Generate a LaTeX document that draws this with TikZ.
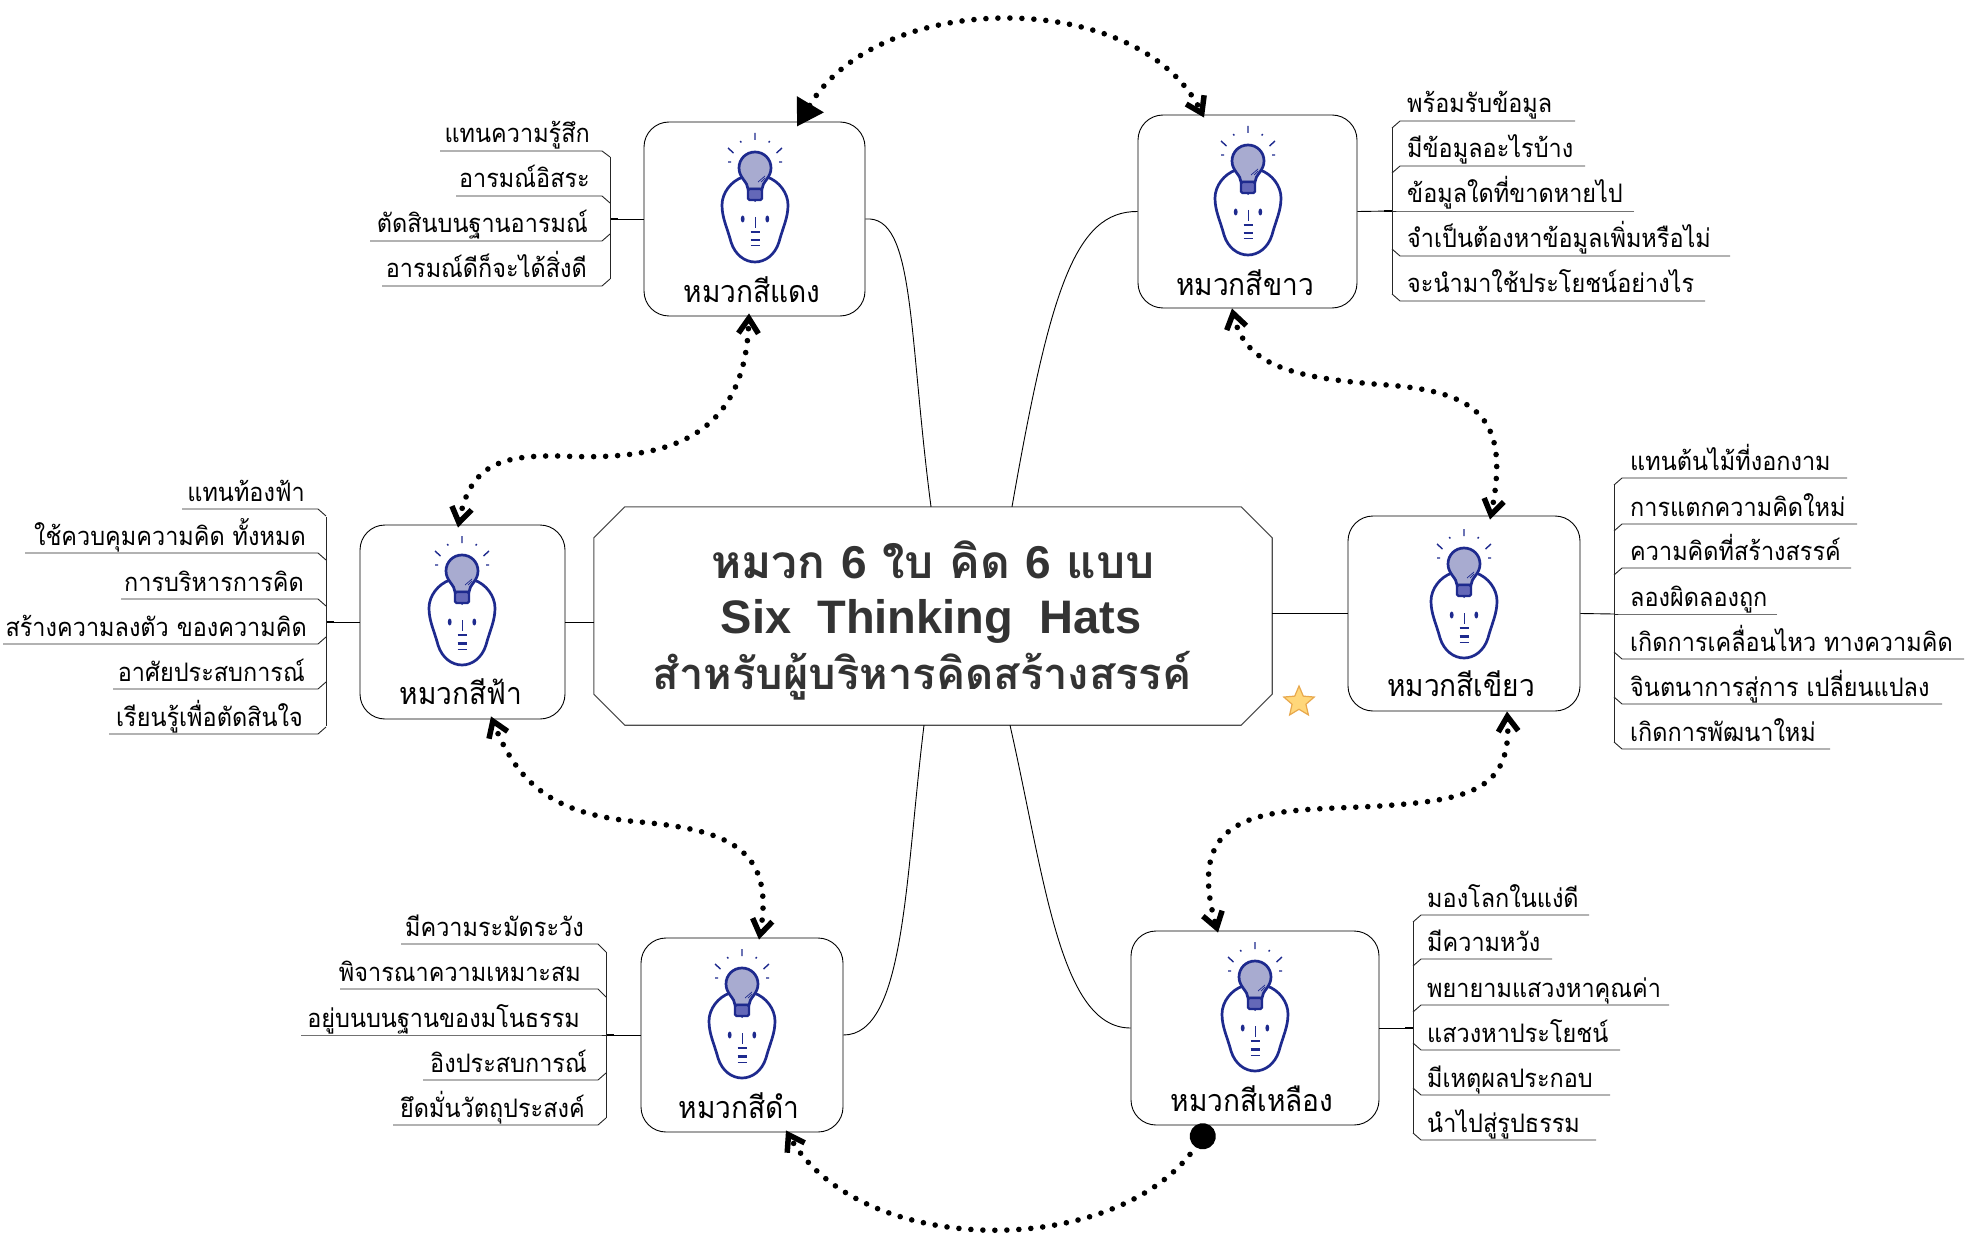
\documentclass[tikz,border=0pt]{standalone}
\usepackage{fontspec}
\usetikzlibrary{arrows.meta,shapes.misc,shapes.geometric,calc}
\newfontfamily\thaifont[Script=Thai,FakeStretch=0.92]{Loma}
\newfontfamily\thaititle[Script=Thai]{Loma}
\newfontfamily\latinbold{Liberation Sans}[BoldFont={Liberation Sans Bold}]
\setmainfont{Loma}
\definecolor{faceblue}{HTML}{1E2A8E}
\definecolor{bulbfill}{HTML}{A8ABD0}
\definecolor{basefill}{HTML}{6468B8}
\definecolor{titlegray}{HTML}{333333}
\definecolor{starfill}{HTML}{FFD77A}
\definecolor{starline}{HTML}{E8A84C}
\tikzset{
  hatbox/.style={draw=black,line width=0.9pt,rectangle,rounded corners=25pt,inner sep=0pt,fill=white},
  hatlabel/.style={font=\thaifont\fontsize{30.5}{34}\selectfont,inner sep=0pt,anchor=center},
  leaftxt/.style={font=\thaifont\fontsize{25.5}{28}\selectfont,inner sep=0pt},
  titletxt/.style={text=titlegray,inner sep=0pt,anchor=base},
  twig/.style={draw=black!85,line width=0.9pt},
  stem/.style={draw=black,line width=0.9pt},
  dotlink/.style={line width=5.6pt,line cap=round,dash pattern=on 0pt off 12pt,black},
  chev/.tip={Straight Barb[length=15pt,width=20pt,line width=5.5pt]},
  face/.pic={
    \draw[faceblue,line width=2.7pt,fill=white] (-12,25) .. controls (-24,29) and (-33,41) .. (-33,53)
      .. controls (-33,66) and (-28,75) .. (-24,90) .. controls (-20,103) and (-10,110) .. (0,110)
      .. controls (10,110) and (20,103) .. (24,90) .. controls (28,75) and (33,66) .. (33,53)
      .. controls (33,41) and (24,29) .. (12,25);
    \draw[faceblue,line width=2.7pt,fill=bulbfill] (-7,37) .. controls (-7,30) and (-16,26) .. (-16,16)
      .. controls (-16,7) and (-9,0) .. (0,0) .. controls (9,0) and (16,7) .. (16,16)
      .. controls (16,26) and (7,30) .. (7,37) -- cycle;
    \draw[faceblue,line width=2.2pt,fill=basefill,rounded corners=1.5pt] (-7,37) rectangle (7,48);
    \fill[faceblue] (-2,48) -- (2,48) -- (0,50) -- cycle;
    \draw[faceblue,line width=0.7pt] (3,30) -- (10,24) (6,30) -- (10,26);
    \draw[faceblue,line width=1.4pt] (0,-19) -- (0,-12) (-14.7,-11) -- (-13.7,-9.5) (14.7,-11) -- (13.7,-9.5)
      (-27,-4) -- (-21.5,1) (27,-4) -- (21.5,1) (-27,10) -- (-24,10) (27,10) -- (24,10);
    \fill[faceblue] (-12.3,67) ellipse (1.9 and 3.5) (12.3,67) ellipse (1.9 and 3.5);
    \draw[faceblue,line width=0.9pt] (0,65) -- (0,76);
    \draw[faceblue,line width=2.4pt] (-4.5,80) -- (4.5,80) (-4.5,88.3) -- (5,88.3);
    \draw[faceblue,line width=1pt] (-4.5,94) -- (5,94);
  }
}
% left-hand leaf: name, line start x, line y, text right x, spine x, chamfer dy, text
\newcommand{\leafL}[7]{%
  \node[leaftxt,anchor=base east] (#1) at (#4,#3-8) {#7};
  \draw[twig] (#2,#3) -- (#5-8,#3) -- (#5,#3+#6);
}
% right-hand leaf: name, line end x, line y, text left x, spine x, chamfer dy, text
\newcommand{\leafR}[7]{%
  \node[leaftxt,anchor=base west] (#1) at (#4,#3-8) {#7};
  \draw[twig] (#2,#3) -- (#5+8,#3) -- (#5,#3+#6);
}
\begin{document}
\begin{tikzpicture}[x=1pt,y=-1pt]
\useasboundingbox[fill=white] (0,0) rectangle (1965,1241);

% central topic
\node[minimum width=678pt,minimum height=218pt,inner sep=0pt] (central) at (933,616) {};
\draw[draw=black!70,line width=1.1pt,fill=white]
  ([xshift=31pt]central.north west) -- ([xshift=-31pt]central.north east)
  -- ([yshift=-31pt]central.north east) -- ([yshift=31pt]central.south east)
  -- ([xshift=-31pt]central.south east) -- ([xshift=31pt]central.south west)
  -- ([yshift=31pt]central.south west) -- ([yshift=-31pt]central.north west) -- cycle;
\node[titletxt] (title1) at (933,578) {\fontsize{46}{55}\selectfont\thaititle\bfseries หมวก {\latinbold 6} ใบ คิด {\latinbold 6} แบบ};
\node[titletxt] (title2) at (931,633) {\fontsize{47}{55}\selectfont\latinbold\bfseries Six\ \ Thinking\ \ Hats};
\node[titletxt] (title3) at (922,689) {\fontsize{43.5}{55}\selectfont\thaititle\bfseries สำหรับผู้บริหารคิดสร้างสรรค์};

% hat boxes
\node[hatbox,minimum width=221pt,minimum height=194pt] (boxRed) at (754.5,219) {};
\node[hatbox,minimum width=219pt,minimum height=193pt] (boxWhite) at (1247.5,211.5) {};
\node[hatbox,minimum width=232pt,minimum height=195pt] (boxGreen) at (1464,613.5) {};
\node[hatbox,minimum width=248pt,minimum height=194pt] (boxYellow) at (1255,1028) {};
\node[hatbox,minimum width=202pt,minimum height=194pt] (boxBlack) at (742,1035) {};
\node[hatbox,minimum width=205pt,minimum height=194pt] (boxSky) at (462.5,622) {};

\pic at (755,152) {face};
\pic at (1248,145) {face};
\pic at (1464,548) {face};
\pic at (1255,961) {face};
\pic at (742,968) {face};
\pic at (462,555) {face};

\node[hatlabel] (labRed) at (752,290) {หมวกสีแดง};
\node[hatlabel] (labWhite) at (1245,283) {หมวกสีขาว};
\node[hatlabel] (labGreen) at (1461,684) {หมวกสีเขียว};
\node[hatlabel] (labYellow) at (1252,1099) {หมวกสีเหลือง};
\node[hatlabel] (labBlack) at (739,1106) {หมวกสีดำ};
\node[hatlabel] (labSky) at (461,692) {หมวกสีฟ้า};

% main branches
\draw[stem] (boxRed.east) .. controls (915,215) and (908,330) .. ([xshift=-2pt]central.north);
\draw[stem] (boxWhite.west) .. controls (1075,211) and (1050,290) .. ([xshift=79pt]central.north);
\draw[stem] (boxBlack.east) .. controls (905,1035) and (905,880) .. ([xshift=-9pt]central.south);
\draw[stem] (boxYellow.west) .. controls (1060,1028) and (1045,880) .. ([xshift=77pt]central.south);
\draw[stem] (boxSky.east) -- (central.west |- boxSky.east);
\draw[stem] (boxGreen.west) -- (central.east |- boxGreen.west);

% star
\node[star,star points=5,star point ratio=2.2,minimum size=32pt,inner sep=0pt,draw=starline,line width=1.2pt,fill=starfill] (mark) at (1299,702) {};

% red leaves
\coordinate (spRed) at (610,219);
\draw[stem] (boxRed.west) -- (spRed);
\draw[black,line width=1.5pt] (spRed) -- +(8,0);
\draw[twig] (610,157) -- (610,279);
\leafL{r1}{440}{151}{590}{610}{6}{แทนความรู้สึก}
\leafL{r2}{456}{196}{590}{610}{7}{อารมณ์อิสระ}
\leafL{r3}{370}{241}{588}{610}{-7}{ตัดสินบนฐานอารมณ์}
\leafL{r4}{382}{286}{587}{610}{-7}{อารมณ์ดีก็จะได้สิ่งดี}

% white leaves
\coordinate (spWhite) at (1392,211);
\draw[stem] (boxWhite.east) -- (spWhite);
\draw[black,line width=1.5pt] (spWhite) -- +(-8,0);
\draw[twig] (1392,128) -- (1392,294);
\leafR{w1}{1575}{121}{1407}{1392}{7}{พร้อมรับข้อมูล}
\leafR{w2}{1585}{166}{1407}{1392}{7}{มีข้อมูลอะไรบ้าง}
\leafR{w3}{1634}{211}{1407}{1392}{0}{ข้อมูลใดที่ขาดหายไป}
\leafR{w4}{1730}{256}{1407}{1392}{-7}{จำเป็นต้องหาข้อมูลเพิ่มหรือไม่}
\leafR{w5}{1705}{301}{1407}{1392}{-7}{จะนำมาใช้ประโยชน์อย่างไร}

% green leaves
\coordinate (spGreen) at (1614,614);
\draw[stem] (boxGreen.east) -- (spGreen);
\draw[twig] (1614,485) -- (1614,742);
\leafR{g1}{1847}{478}{1630}{1614}{7}{แทนต้นไม้ที่งอกงาม}
\leafR{g2}{1857}{524}{1630}{1614}{7}{การแตกความคิดใหม่}
\leafR{g3}{1851}{568}{1630}{1614}{7}{ความคิดที่สร้างสรรค์}
\leafR{g4}{1777}{614}{1630}{1614}{0}{ลองผิดลองถูก}
\leafR{g5}{1964}{659}{1630}{1614}{-7}{เกิดการเคลื่อนไหว ทางความคิด}
\leafR{g6}{1942}{704}{1630}{1614}{-7}{จินตนาการสู่การ เปลี่ยนแปลง}
\leafR{g7}{1830}{749}{1630}{1614}{-7}{เกิดการพัฒนาใหม่}

% yellow leaves
\coordinate (spYellow) at (1413,1028);
\draw[stem] (boxYellow.east) -- (spYellow);
\draw[black,line width=1.5pt] (spYellow) -- +(-8,0);
\draw[twig] (1413,922) -- (1413,1133);
\leafR{y1}{1589}{915}{1427}{1413}{7}{มองโลกในแง่ดี}
\leafR{y2}{1552}{959}{1427}{1413}{7}{มีความหวัง}
\leafR{y3}{1669}{1005}{1427}{1413}{7}{พยายามแสวงหาคุณค่า}
\leafR{y4}{1620}{1050}{1427}{1413}{-7}{แสวงหาประโยชน์}
\leafR{y5}{1610}{1095}{1427}{1413}{-7}{มีเหตุผลประกอบ}
\leafR{y6}{1596}{1140}{1427}{1413}{-7}{นำไปสู่รูปธรรม}

% black leaves
\coordinate (spBlack) at (606,1035);
\draw[stem] (boxBlack.west) -- (spBlack);
\draw[black,line width=1.5pt] (spBlack) -- +(8,0);
\draw[twig] (606,952) -- (606,1118);
\leafL{b1}{401}{944}{584}{606}{8}{มีความระมัดระวัง}
\leafL{b2}{340}{989}{581}{606}{8}{พิจารณาความเหมาะสม}
\leafL{b3}{301}{1035}{580}{606}{0}{อยู่บนบนฐานของมโนธรรม}
\leafL{b4}{423}{1080}{587}{606}{-7}{อิงประสบการณ์}
\leafL{b5}{393}{1125}{585}{606}{-7}{ยึดมั่นวัตถุประสงค์}

% sky leaves
\coordinate (spSky) at (326,622);
\draw[stem] (boxSky.west) -- (spSky);
\draw[black,line width=1.5pt] (spSky) -- +(8,0);
\draw[twig] (326,517) -- (326,726);
\leafL{s1}{182}{509}{305}{326}{7}{แทนท้องฟ้า}
\leafL{s2}{25}{553}{306}{326}{7}{ใช้ควบคุมความคิด ทั้งหมด}
\leafL{s3}{121}{599}{304}{326}{7}{การบริหารการคิด}
\leafL{s4}{3}{644}{307}{326}{-7}{สร้างความลงตัว ของความคิด}
\leafL{s5}{113}{689}{305}{326}{-7}{อาศัยประสบการณ์}
\leafL{s6}{109}{734}{303}{326}{-7}{เรียนรู้เพื่อตัดสินใจ}

% dotted relations
\draw[dotlink,{Triangle[length=26pt,width=30pt]}-chev] ([xshift=42.5pt,yshift=-5pt]boxRed.north)
   .. controls (880,-12) and (1140,-12) .. ([xshift=-43.5pt,yshift=-3pt]boxWhite.north);
\draw[dotlink,chev-chev] ([xshift=-15.5pt]boxWhite.south)
   .. controls (1245,365) and (1290,378) .. (1387,385) .. controls (1480,392) and (1510,420) .. ([xshift=26pt,yshift=-4pt]boxGreen.north);
\draw[dotlink,chev-chev] ([xshift=43pt]boxGreen.south)
   .. controls (1512,790) and (1470,800) .. (1380,806) .. controls (1280,812) and (1180,800) .. ([xshift=-37pt,yshift=-2pt]boxYellow.north);
\draw[dotlink,{Circle[length=26pt]}-chev] ([xshift=-45pt]boxYellow.south)
   .. controls (1120,1260) and (860,1260) .. ([xshift=44pt,yshift=2pt]boxBlack.south);
\draw[dotlink,chev-chev] ([xshift=17pt,yshift=-2pt]boxBlack.north)
   .. controls (775,850) and (730,830) .. (640,822) .. controls (560,815) and (520,790) .. ([xshift=28.5pt,yshift=3pt]boxSky.south);
\draw[dotlink,chev-chev] ([xshift=-4.5pt,yshift=-3pt]boxSky.north)
   .. controls (470,465) and (500,455) .. (560,456) .. controls (650,460) and (745,450) .. ([xshift=-5.5pt,yshift=3pt]boxRed.south);
\end{tikzpicture}
\end{document}
